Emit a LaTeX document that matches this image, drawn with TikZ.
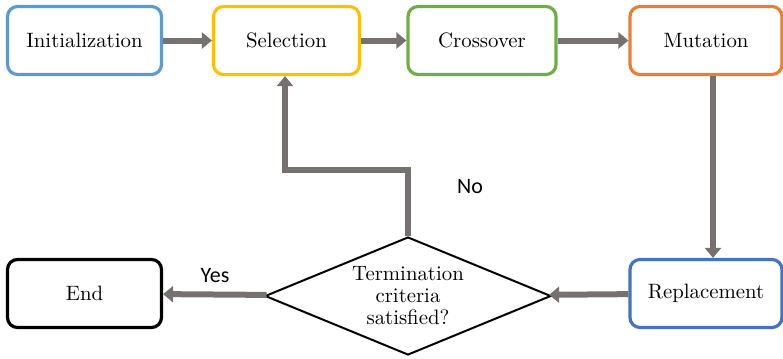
\documentclass[tikz,border=0pt]{standalone}
\usepackage{fontspec}
\newfontfamily\labelfont{Carlito}
\usetikzlibrary{shapes.geometric, arrows.meta}

\definecolor{initblue}{HTML}{5B9BD5}
\definecolor{selgold}{HTML}{FFC000}
\definecolor{crossgreen}{HTML}{70AD47}
\definecolor{mutorange}{HTML}{ED7D31}
\definecolor{replblue}{HTML}{4472C4}
\definecolor{flowgray}{HTML}{767171}

\begin{document}
\begin{tikzpicture}[x=0.5pt, y=-0.5pt, font=\fontsize{10.4}{11}\selectfont]
        \tikzstyle{block} = [rectangle, draw, line width=1.6pt, rounded corners=5pt, align=center, minimum width=76pt, minimum height=34pt, fill=white]
        \tikzstyle{flow} = [draw=flowgray, line width=3pt, -{Triangle[width=8pt, length=5pt]}]
        \useasboundingbox (0,0) rectangle (783,359);
        \node[block, draw=initblue, minimum width=77pt] (init) at (84.5,40.5) {Initialization};
        \node[block, draw=selgold, minimum width=73pt] (sel) at (286.5,40.5) {Selection};
        \node[block, draw=crossgreen, minimum width=74pt] (cross) at (482,40.5) {Crossover};
        \node[block, draw=mutorange] (mut) at (706,40.5) {Mutation};
        \node[block, draw=replblue] (repl) at (706,293.5) {Replacement};
        \node[block, draw=black, minimum width=77pt] (end) at (84.5,293.5) {End};
        \node[diamond, aspect=2.42, draw, line width=1pt, fill=white, inner sep=0pt, minimum width=143pt, minimum height=59pt, align=center] (dia) at (408,296) {Termination\\criteria\\satisfied?};
        \draw[flow] (init) -- (sel);
        \draw[flow] (sel) -- (cross);
        \draw[flow] (cross) -- (mut);
        \draw[flow] ([xshift=3.5pt]mut.south) -- ([xshift=3.5pt]repl.north);
        \draw[flow] (repl) -- (dia);
        \draw[flow] (dia) -- (end);
        \draw[flow] (dia.north) -- ++(0,-66) -| ([xshift=-0.75pt]sel.south);
        \node[font=\labelfont\fontsize{11}{13}\selectfont] (no) at (470,187) {No};
        \node[font=\labelfont\fontsize{11}{13}\selectfont] (yes) at (215,276) {Yes};
    \end{tikzpicture}
\end{document}
